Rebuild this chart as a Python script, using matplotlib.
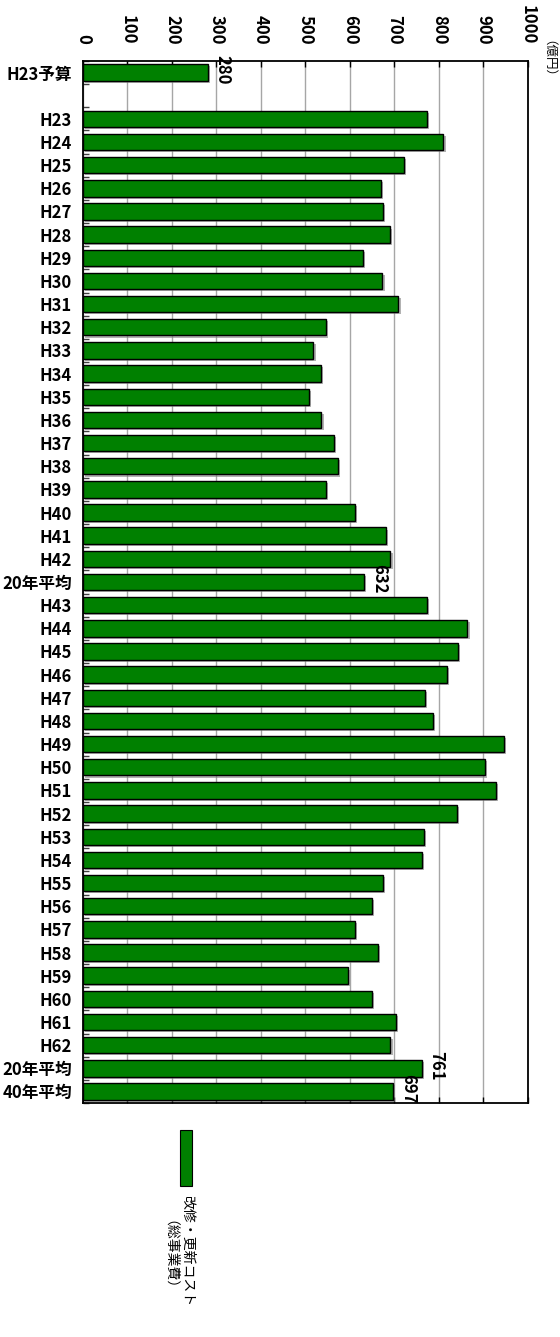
import matplotlib
matplotlib.use("Agg")
import matplotlib.pyplot as plt
import matplotlib.patheffects as pe
from matplotlib.patches import Rectangle
from matplotlib.ticker import FixedLocator, MultipleLocator

plt.rcParams['font.family'] = ['Liberation Sans Narrow', 'Noto Sans CJK JP', 'DejaVu Sans']

# Categories (top to bottom); the empty string is a spacer row
categories = (["H23予算", ""]
              + [f"H{n}" for n in range(23, 43)]
              + ["20年平均"]
              + [f"H{n}" for n in range(43, 63)]
              + ["20年平均", "40年平均"])

# Renovation / renewal cost (億円)
costs = [280, None,
         773, 810, 722, 669, 675, 689, 629, 673, 709, 545,
         518, 534, 507, 536, 564, 574, 547, 612, 680, 691,
         632,
         774, 864, 842, 817, 769, 786, 947, 904, 928, 841,
         766, 762, 674, 650, 612, 662, 596, 650, 703, 691,
         761, 697]

# Bars whose value is printed next to them
labelled = ["H23予算", "20年平均", "40年平均"]

x_ticks = list(range(0, 1001, 100))
unit_label = "（億円）"
legend_line1 = "改修・更新コスト"
legend_line2 = "（総事業費）"

bar_color = "#008000"

fig = plt.figure(figsize=(5.6, 13.37), dpi=100)
ax = fig.add_axes([0.1482, 0.1750, 0.7946, 0.7794])

rows = list(range(len(categories)))
shadow = [pe.SimplePatchShadow(offset=(1.5, -1.5), shadow_rgbFace="#808080", alpha=0.6), pe.Normal()]
for r, v in zip(rows, costs):
    if v is None:
        continue
    b = ax.barh(r, v, height=0.71, color=bar_color, edgecolor="black", linewidth=1.0, zorder=3)
    for p in b.patches:
        p.set_path_effects(shadow)
    if categories[r] in labelled:
        ax.annotate(str(v), xy=(v, r), xytext=(4, 2), textcoords="offset points",
                    rotation=-90, ha="left", va="center", fontsize=12, fontweight="bold",
                    zorder=4)

ax.set_xlim(0, 1000)
ax.set_ylim(len(categories) - 0.5, -0.5)

# x axis on top with rotated labels
ax.xaxis.set_major_locator(FixedLocator(x_ticks))
ax.tick_params(axis="x", which="major", top=True, bottom=True, labeltop=True, labelbottom=False,
               direction="in", length=4, width=1, pad=12, labelsize=12)
for lab in ax.get_xticklabels():
    lab.set_rotation(-90)
    lab.set_fontweight("bold")
    lab.set_va("bottom")
    lab.set_ha("center")

# y axis: category labels, small marks between rows
ax.set_yticks(rows)
ax.set_yticklabels(categories, fontsize=12, fontweight="bold")
ax.yaxis.set_minor_locator(MultipleLocator(1, offset=0.5))
ax.tick_params(axis="y", which="major", length=0, pad=8)
ax.tick_params(axis="y", which="minor", left=True, direction="in", length=4, width=1, color="#404040")

ax.grid(axis="x", color="#a6a6a6", linewidth=1.0, zorder=0)
ax.set_axisbelow(True)
for s in ax.spines.values():
    s.set_linewidth(1.3)
    s.set_color("black")

fig.text(542 / 560, 1 - 40 / 1337, unit_label, rotation=-90, ha="center", va="top",
         fontsize=9, family=["Noto Sans CJK JP"])

# legend
fig.patches.append(Rectangle((180 / 560, 1 - 1186 / 1337), 12 / 560, 56 / 1337,
                             transform=fig.transFigure, facecolor=bar_color,
                             edgecolor="black", linewidth=0.8))
fig.text(187 / 560, 1 - 1195 / 1337, legend_line1, rotation=-90, ha="center", va="top",
         fontsize=10, family=["Noto Sans CJK JP"])
fig.text(163 / 560, 1 - 1220 / 1337, legend_line2, rotation=-90, ha="center", va="top",
         fontsize=10, family=["Noto Sans CJK JP"])

fig.savefig("out.png", dpi=100)
